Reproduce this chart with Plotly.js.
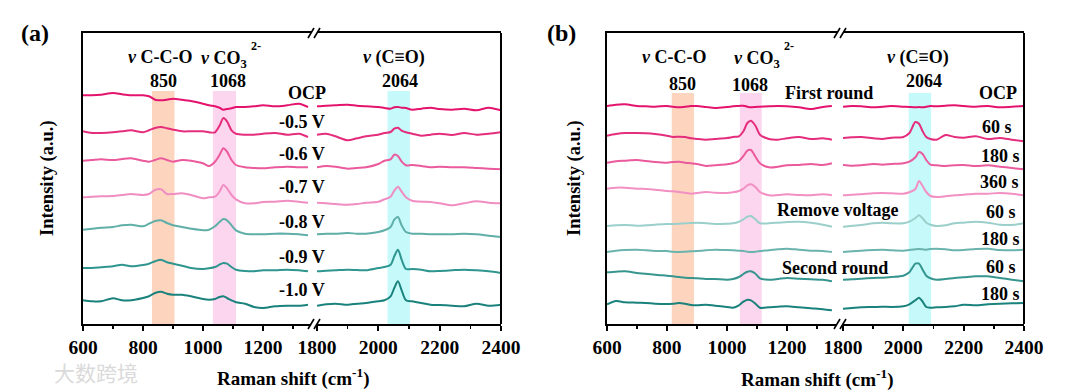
<!DOCTYPE html>
<html><head><meta charset="utf-8">
<script src="https://cdn.plot.ly/plotly-3.0.1.min.js"></script>
<style>html,body{margin:0;padding:0;background:#fff}#chart{width:1080px;height:390px}</style>
</head><body><div id="chart"></div>
<script>
// ---------- data ----------
const shiftLow  = [600,630,660,700,730,760,800,820,840,860,880,900,930,960,1000,1020,1040,1055,1068,1080,1095,1110,1140,1170,1200,1240,1280,1320,1350];
const shiftHigh = [1800,1830,1860,1900,1930,1960,2000,2020,2040,2052,2064,2076,2090,2110,2140,2170,2200,2240,2280,2320,2360,2400];

// Panel (a): potential series
const labelsA  = ['OCP','-0.5 V','-0.6 V','-0.7 V','-0.8 V','-0.9 V','-1.0 V'];
const offsetsA = [217,191,159,124,92,56,21];
const lowA = [
 [11.7,11.7,12.3,14,12.7,11.7,11.7,10.7,7.3,6.7,7.3,8.3,7.3,6,3.3,1.7,0.7,-0.7,-2.7,-2,-1.3,0,0,0.7,1.7,0.7,1.7,3.3,0],
 [1.7,0,0,0.7,1.7,2.7,0.7,2.7,5,6,4.7,3.3,1.7,1.7,1.7,0.7,0.7,7.3,15,11.7,2.7,-0.7,-1.7,-1.7,-0.7,0,-1.7,-0.7,-4],
 [4.3,5,5.7,5,6,6.7,4.3,3.3,5,6.7,5,3.3,5,4.3,1.7,-1,3.3,10,16.7,13.3,5,0,-2.3,-3,-3.3,-2.3,-1.7,-2.3,-2.3],
 [2.7,3.3,3.7,4,5,6,5,6,10,10.7,6,6,6.7,5,1.7,2.7,3.3,8.3,15,11.7,5,0.7,-3.3,-3.3,-2,-1.7,-0.7,-1.7,-2.7],
 [2.3,3.3,4.3,5,6.7,7.3,5.7,8.3,11,11.7,9,6.7,5,3.3,1.7,2.3,5.7,10,13,11.7,6.7,1.7,-1.7,-2.3,-2.3,-1.7,-1.7,-2.3,-3.3],
 [0,0,0.7,1.7,3.3,1.7,3,4.3,6.7,8.3,5.7,4.3,2.3,0,-1,-0.3,1,3.3,5,4.3,1,-1.7,-3,-3.3,-2.3,-2.3,-1.7,-2.3,-3.3],
 [2.7,1.7,1.7,4.7,2.7,2.7,5,6.7,10,11.3,9.3,8.3,8.3,6.7,4,3.3,4,6,6.7,5,2.7,0.7,-0.7,-4,-5,-3.3,-2.7,-2.7,-1.7]
];
const highA = [
 [0.7,1.3,1.7,2.3,1.3,0.7,0,-1,-1.7,-0.3,0,-0.7,-1,-2.7,-1.7,-0.7,-2,-2.7,-1.7,-3.3,-0.7,-3.3],
 [-1.7,-0.7,-3.3,-7.3,-5.3,-3.3,-1.7,0,1,4.3,5.3,2.3,0.7,-0.7,-2.7,-1.7,-0.7,-2,0,-1.7,-0.7,0.7],
 [-2.3,-1,-1.7,-3.7,-3,-2.3,1,4.3,5.7,10.3,9,3.3,-0.3,0,-1,-2.3,-1.7,-2.3,-2.3,-3,-3.7,-4.3],
 [-2.7,-3.3,-4,-4.7,-4,-2.7,-1.7,0.7,3.3,9.3,13.3,8.3,2.7,-0.7,-1.7,-2,-3.3,-5.3,-3.3,-1.3,-2.7,-3.3],
 [-2.3,-1.7,-1.7,-1,-1.7,-1.7,0,1.7,5,12.3,15,6.7,0,-1.7,-1.7,-2.3,-2.3,-2.3,-1.7,-2.3,-3.7,-5],
 [-3.3,-2.7,-2.3,-1.7,-2,-2.3,0,1,3.3,11.7,18.3,8.3,-1,-1,-1.7,-3.3,-3,-2.3,-1.7,-2.3,-3.3,-5],
 [-2.7,-1.3,-0.7,-1.7,-0.7,0,1.7,2.7,6.7,15,21.7,12.7,2.7,1.7,0,-1.7,-2,-2.7,-3.3,-0.7,-2.7,-1.7]
];
const colorsA = ['#E3136E','#E52D7D','#EA5A9C','#F08DC2','#5FAEA8','#2E958F','#1A827C'];

// Panel (b): time series
const labelsB  = ['OCP','60 s','180 s','360 s','60 s','180 s','60 s','180 s'];
const offsetsB = [218,186,160,132,99,73,46,17];
const lowB = [
 [0,1.3,1.7,0,-0.3,-0.7,0,-0.7,-1.3,-0.7,0,0,-1,-2,-1,-0.3,0,0.3,-0.7,-1.3,-1,-0.7,-0.3,0,-0.3,-1.3,-3,-1,0],
 [2.3,4,5,5,4.7,4,2.3,1,1.3,1,-0.3,-1,-1.7,-1,0,1,1.7,6.7,15,17.3,12.3,3.3,-1,-1.7,-0.3,1,-1,-0.3,-1.7],
 [1.3,2.7,3.3,4,3,2,1.3,2,2.3,1.3,0.7,0,-2,-1.3,-0.3,0.7,3,8,13.3,14,7.3,0.7,-3.3,-2.7,-1.3,-1,0,-1,0.7],
 [3.3,4.3,4.3,3.3,3,2.3,1,0.7,0,-0.7,-1.7,-1,0,-0.7,-1,-0.3,1,3.3,6.7,7.7,5,0,-3.3,-3,-2.3,-3,-3.3,-2.3,-3.3],
 [-1,-0.3,0,-0.7,-0.3,0.3,1,1,1.3,1.7,2,2.3,1.7,1,1.3,1.7,3.3,5.7,8.3,9,5.7,1.7,1.7,2.3,3,3.3,2.3,0.3,-1.7],
 [-1,0.3,1,1.3,0.7,0,0,-0.7,-1,-0.7,-0.3,0,0.7,1.3,1,0.7,0.3,0,-0.7,-1,-0.7,0,0.7,1.7,2.3,1.3,0.3,0,-1],
 [5.7,6.3,6.7,5,4.3,3.3,2.3,1.7,1,0.3,0,-0.3,-1,-1,-1.7,-1,1,4,6.3,6.7,4.3,-0.3,-1.7,-1,0,-0.7,-1.3,-1.7,-3.3],
 [2.7,6,4.7,4.3,4,3.3,3,3.3,4,3.3,2,1.7,2.3,1.3,0,-0.7,1.7,5.3,7.3,6.7,3.3,-0.7,-0.3,0.3,0.7,-0.3,-1.3,-2.3,-3.3]
];
const highB = [
 [-0.7,0,-0.3,-1.3,-0.7,0,-0.7,-1,-1.3,-1,-1.3,-0.7,0,-0.3,0.3,0.7,0,-0.7,0,-1.3,-0.7,0],
 [0,0.7,1,-0.3,-1,0.3,1,5,16,14.3,6.7,1,-1,-1.7,3,1,0.3,1.7,-1,0,-1.7,-3.3],
 [-1,-1.7,-1.3,0,-0.7,0,0.7,2.3,6.7,12,10,4,-0.7,-1.3,-2,-1.3,-1,-2,-1.3,-2.7,-4,-5.3],
 [-3.3,-2.7,-2.3,-1.3,-1,-1.3,-1.7,-0.3,3,11,6,0,-4,-5,-4.3,-3.3,-2.7,-1.7,-1.7,-1,-1.7,-3.3],
 [-1.7,-0.7,0,1.7,2.3,1.7,1.7,3.3,7,9.7,6.7,2.3,0.3,-1,-0.3,1.7,2.3,3.3,2.3,0.3,0,1.7],
 [-1,-0.3,0.3,1,1.3,0.7,0.3,1,1.7,2,1.7,1.3,2,2.3,1.7,0.7,1,2,2.3,1,0.7,1.3],
 [-1.7,-1.3,-0.7,0,0.3,1,2.3,5.7,14.3,14.3,8.3,2.3,-0.3,-1.7,-1,0,0.7,1.7,1.7,0,-1.7,-3.3],
 [-1.7,-1,-0.3,0,0.3,0,0.7,2.7,6.7,9.3,5.3,0,-0.7,-0.3,0,0.7,2.3,1.7,2.7,3.3,3.7,4]
];
const colorsB = ['#E3136E','#E52D7D','#EA5A9C','#F28FC3','#9BCFCB','#6AB3AE','#36958F','#1A827C'];

// highlighted bands (cm-1)
const bandsA = [[830,905,'#FDD5BF'],[1033,1110,'#FCD6EE'],[2030,2103,'#C6F9FA']];
const bandsB = [[816,890,'#FDD5BF'],[1043,1116,'#FCD6EE'],[2018,2092,'#C6F9FA']];

const lowTicks = [600,800,1000,1200], lowMinor = [700,900,1100,1300];
const highTicks = [1800,2000,2200,2400], highMinor = [1900,2100,2300];

// ---------- layout helpers ----------
const W = 1080, H = 390;
const px = v => v / W, py = v => 1 - v / H;
const FONT = '"Liberation Serif", "Times New Roman", serif';
const yDom = [py(324), py(33)];

const traces = [];
function addPanel(lows, highs, offs, cols, xl, xh, ya) {
  for (let i = 0; i < lows.length; i++) {
    traces.push({x: shiftLow, y: lows[i].map(v => v + offs[i]), xaxis: xl, yaxis: ya,
      type: 'scatter', mode: 'lines', line: {color: cols[i], width: 2, shape: 'spline', smoothing: 0.8},
      hoverinfo: 'skip', showlegend: false});
    traces.push({x: shiftHigh, y: highs[i].map(v => v + offs[i]), xaxis: xh, yaxis: ya,
      type: 'scatter', mode: 'lines', line: {color: cols[i], width: 2, shape: 'spline', smoothing: 0.8},
      hoverinfo: 'skip', showlegend: false});
  }
}
addPanel(lowA, highA, offsetsA, colorsA, 'x', 'x2', 'y');
addPanel(lowB, highB, offsetsB, colorsB, 'x3', 'x4', 'y2');

function xAx(dom, range, tv, mv, anchor) {
  return {domain: [px(dom[0]), px(dom[1])], range: range, anchor: anchor,
    showline: true, linecolor: '#000', linewidth: 2, mirror: true, showgrid: false, zeroline: false,
    ticks: 'outside', ticklen: 5, tickwidth: 2, tickcolor: '#000', tickmode: 'array', tickvals: tv,
    ticktext: tv.map(String),
    tickfont: {family: FONT, size: 19.5, color: '#000', weight: 'bold'},
    minor: {tickmode: 'array', tickvals: mv, ticks: 'outside', ticklen: 3, tickwidth: 1.5, tickcolor: '#000', showgrid: false},
    fixedrange: true};
}
function yAx(anchor) {
  return {domain: yDom, range: [0, 291], anchor: anchor, showline: true, linecolor: '#000', linewidth: 2,
    showgrid: false, zeroline: false, showticklabels: false, ticks: '', fixedrange: true};
}

const shapes = [];
function bands(list, xl, xh, topPx) {
  list.forEach(b => {
    shapes.push({type: 'rect', xref: b[0] > 1500 ? xh : xl, yref: 'paper', x0: b[0], x1: b[1],
      y0: yDom[0], y1: py(topPx), fillcolor: b[2], line: {width: 0}, layer: 'below'});
  });
}
bands(bandsA, 'x', 'x2', 91);
bands(bandsB, 'x3', 'x4', 93);
function rightLine(xh, yr) {
  shapes.push({type: 'line', xref: xh + ' domain', yref: yr + ' domain', x0: 1, x1: 1, y0: 0, y1: 1,
    line: {color: '#000', width: 2}});
}
rightLine('x2', 'y'); rightLine('x4', 'y2');
function breakMarks(xs) {
  [324, 33].forEach(yy => xs.forEach(xx => {
    shapes.push({type: 'line', xref: 'paper', yref: 'paper', x0: px(xx - 3), x1: px(xx + 3),
      y0: py(yy + 5), y1: py(yy - 5), line: {color: '#000', width: 1.6}});
  }));
}
breakMarks([311, 317]);
breakMarks([837, 843]);

const ann = [];
function txt(t, x, y, size, opts) {
  ann.push(Object.assign({text: t, x: px(x), y: py(y), xref: 'paper', yref: 'paper', showarrow: false,
    xanchor: 'center', yanchor: 'middle', font: {family: FONT, size: size || 18, color: '#000', weight: 'bold'}}, opts || {}));
}
// panel (a)
txt('(a)', 35, 33, 24);
txt('<i>ν</i> C-C-O', 160, 57);
txt('850', 163, 81);
txt('<i>ν</i> CO<sub>3</sub>', 199, 59, 18, {xanchor: 'left'});
txt('2-', 249, 46, 12, {xanchor: 'left'});
txt('1068', 228, 81);
txt('<i>ν</i> (C≡O)', 394, 57);
txt('2064', 400, 81);
const yLabA = [93, 122, 154, 187, 222, 257, 290];
labelsA.forEach((l, i) => txt(l, i === 0 ? 307 : 302, yLabA[i]));
txt('Raman shift (cm<sup>-1</sup>)', 293, 377, 19);
txt('Intensity (a.u.)', 48, 178, 18.5, {textangle: -90});
// panel (b)
txt('(b)', 561, 33, 24);
txt('<i>ν</i> C-C-O', 674, 57);
txt('850', 682, 84);
txt('<i>ν</i> CO<sub>3</sub>', 732, 59, 18, {xanchor: 'left'});
txt('2-', 782, 46, 12, {xanchor: 'left'});
txt('1068', 750, 85);
txt('First round', 829, 93);
txt('<i>ν</i> (C≡O)', 918, 57);
txt('2064', 924, 81);
const yLabB = [93, 127, 156, 182, 212, 239, 267, 294];
const xLabB = [998, 997, 1000, 999, 1001, 1000, 1001, 1000];
labelsB.forEach((l, i) => txt(l, xLabB[i], yLabB[i]));
txt('Remove voltage', 837, 210);
txt('Second round', 835, 268);
txt('Raman shift (cm<sup>-1</sup>)', 817, 378, 19);
txt('Intensity (a.u.)', 575, 178, 18.5, {textangle: -90});
// watermark
ann.push({text: '大数跨境', x: px(96), y: py(372), xref: 'paper', yref: 'paper', showarrow: false,
  xanchor: 'center', yanchor: 'middle', font: {family: '"Noto Sans CJK SC"', size: 21, color: '#dadada'}});

const layout = {
  width: W, height: H, margin: {l: 0, r: 0, t: 0, b: 0}, paper_bgcolor: '#fff', plot_bgcolor: 'rgba(0,0,0,0)',
  showlegend: false,
  xaxis:  xAx([83, 311], [600, 1360], lowTicks, lowMinor, 'y'),
  xaxis2: xAx([317, 501], [1800, 2400], highTicks, highMinor, 'y'),
  xaxis3: xAx([607, 837], [600, 1367], lowTicks, lowMinor, 'y2'),
  xaxis4: xAx([843, 1024], [1800, 2400], highTicks, highMinor, 'y2'),
  yaxis: yAx('x'), yaxis2: yAx('x3'),
  shapes: shapes, annotations: ann
};
Plotly.newPlot('chart', traces, layout, {staticPlot: true, displayModeBar: false});
</script></body></html>
